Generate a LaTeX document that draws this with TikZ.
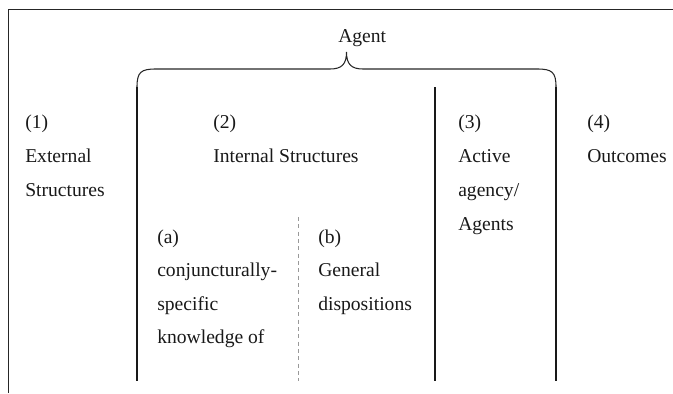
\documentclass[tikz,border=0pt]{standalone}
\usepackage{fontspec}
\setmainfont{Liberation Serif}

\begin{document}
\begin{tikzpicture}[
                x=0.75pt,
                y=-0.75pt,
                txt/.style={anchor=base west, inner sep=0pt, text=black!90, font=\fontsize{14.7}{18}\selectfont},
                boxline/.style={line width=1pt, draw=black!85},
                bar/.style={line width=1.6pt, draw=black!90},
                brace/.style={line width=0.8pt, draw=black!85},
                split/.style={line width=0.6pt, draw=black!40, dash pattern=on 3pt off 2.5pt},
            ]

                \useasboundingbox (0,0) rectangle (673,393);

                % Draw the open frame
                \draw[boxline] (8.5,393) -- (8.5,9.5) -- (673,9.5);

                % Draw the agent label and its brace
                \node[txt] (agent) at (338,42) {Agent};
                \coordinate (brace-l) at (137,87);
                \coordinate (brace-r) at (556,87);
                \draw[brace] (brace-l) .. controls (137,72) and (141,69) .. (156,69)
                    -- (330,69) .. controls (342,69) and (346.5,64) .. (346.5,52)
                    .. controls (346.5,64) and (351,69) .. (363,69)
                    -- (537,69) .. controls (552,69) and (556,72) .. (brace-r);

                % Draw the column rules
                \foreach \name / \x in {left/137, mid/435, right/556}
                    \draw[bar] (\x,87) coordinate (\name-top) -- (\x,381) coordinate (\name-bot);
                \draw[split] (298,217) coordinate (split-top) -- (298,381) coordinate (split-bot);

                % Column texts, one node per line
                \foreach \line [count=\i] in {{(1)}, External, Structures}
                    \node[txt] (ext-\i) at (25, 94+34*\i) {\line};
                \foreach \line [count=\i] in {{(2)}, Internal Structures}
                    \node[txt] (int-\i) at (213, 94+34*\i) {\line};
                \foreach \line [count=\i] in {{(3)}, Active, agency/, Agents}
                    \node[txt] (act-\i) at (458, 94+34*\i) {\line};
                \foreach \line [count=\i] in {{(4)}, Outcomes}
                    \node[txt] (out-\i) at (587, 94+34*\i) {\line};

                % Sub-columns of the internal structures
                \foreach \line [count=\i] in {{(a)}, conjuncturally-, specific, knowledge of}
                    \node[txt] (conj-\i) at (157, 209.5+33.5*\i) {\line};
                \foreach \line [count=\i] in {{(b)}, General, dispositions}
                    \node[txt] (gen-\i) at (318, 209.5+33.5*\i) {\line};
            \end{tikzpicture}
\end{document}
